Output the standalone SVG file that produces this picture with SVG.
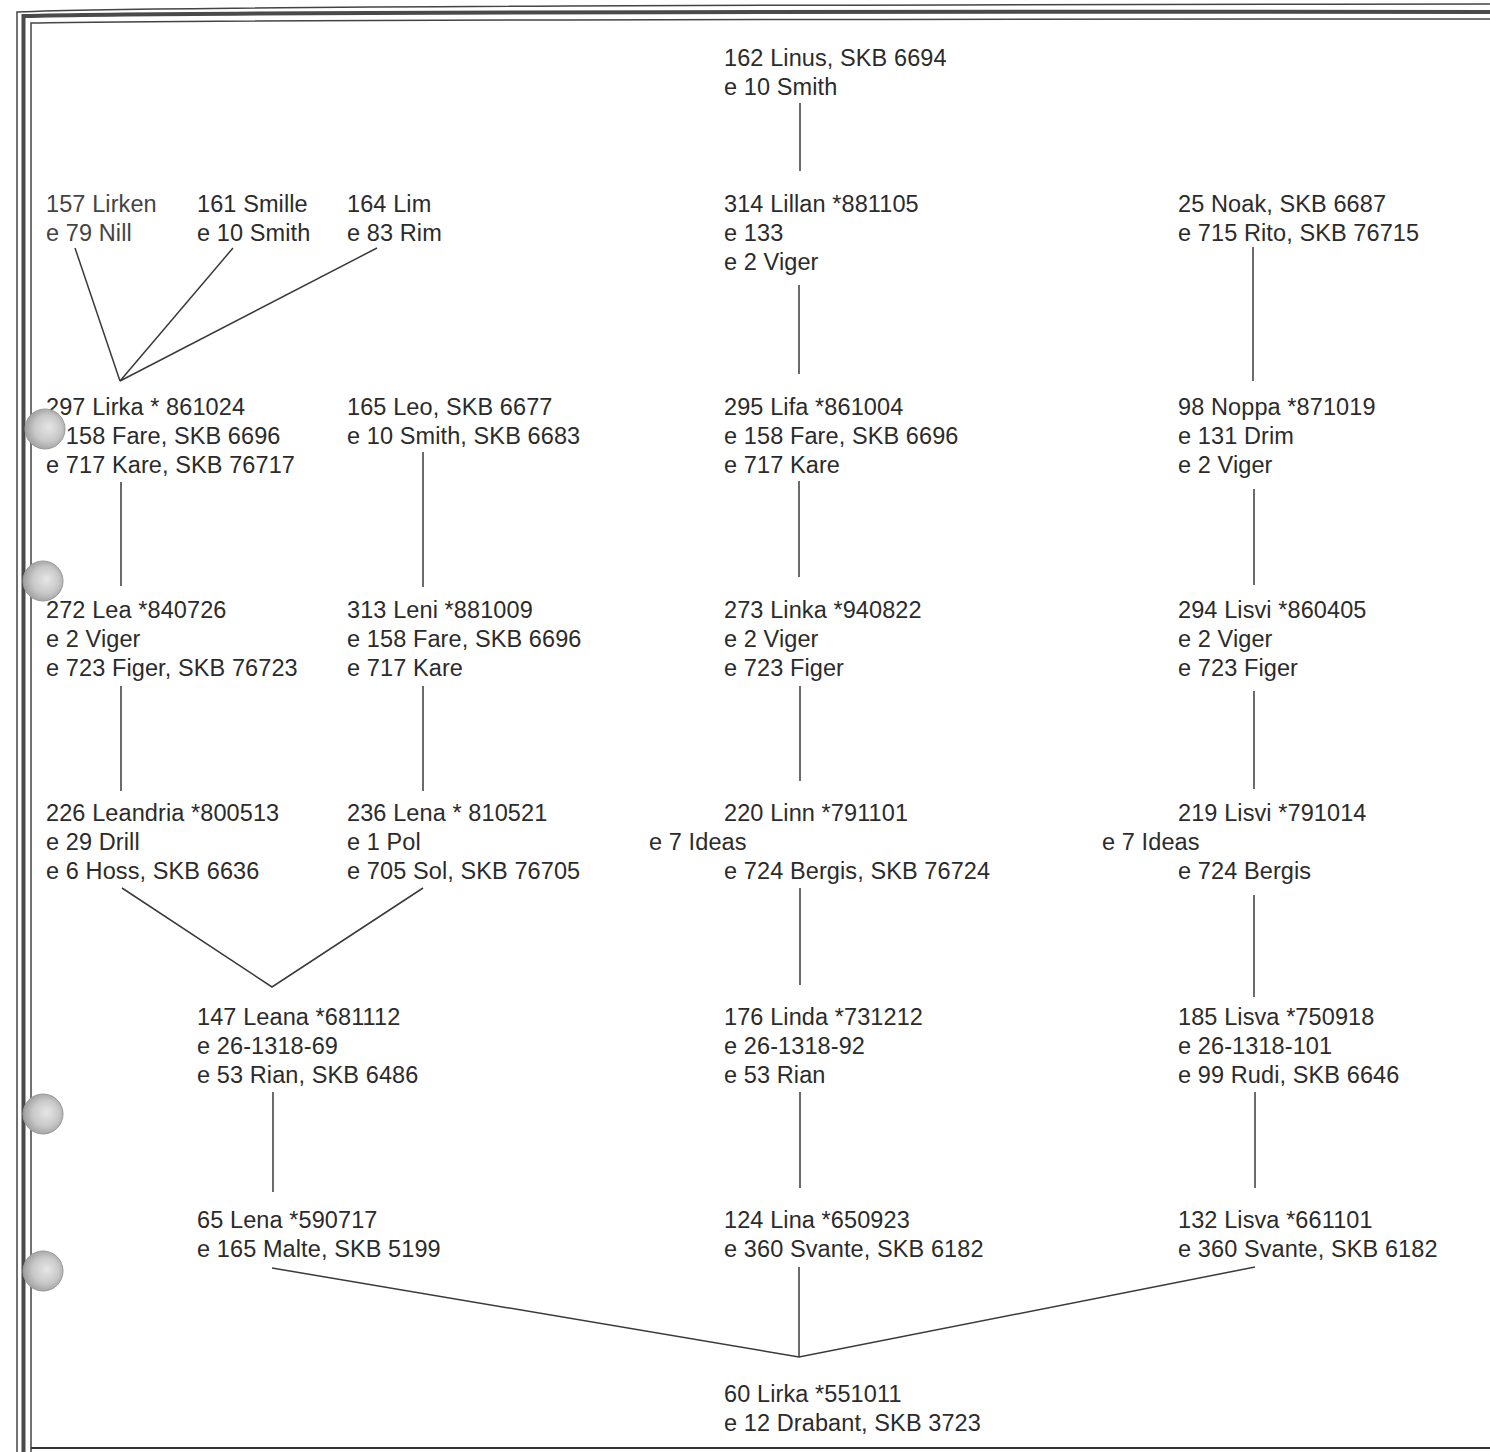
<svg xmlns="http://www.w3.org/2000/svg" width="1490" height="1452" viewBox="0 0 1490 1452">
<defs>
<style>
text{font-family:"Liberation Sans",Arial,sans-serif;font-size:23.5px;letter-spacing:0.1px;fill:#2b2b2b}
.c{stroke:#3a3a3a;stroke-width:1.5;fill:none}
.b1{stroke:#444;stroke-width:1.5;fill:none}
.b2{stroke:#4a4a4a;stroke-width:4;fill:none}
.hole{fill:url(#hg);stroke:#9a9a9a;stroke-width:1}
</style>
<radialGradient id="hg" cx="0.55" cy="0.5" r="0.55" fx="0.6" fy="0.45">
<stop offset="0" stop-color="#e6e6e6"/>
<stop offset="0.6" stop-color="#c8c8c8"/>
<stop offset="1" stop-color="#9e9e9e"/>
</radialGradient>
</defs>
<rect width="1490" height="1452" fill="#ffffff"/>
<g id="border">
<path class="b1" d="M17,1452 L17,12 Q200,5 1490,4"/>
<path class="b2" d="M23.5,1452 L23.5,16 Q200,11 1490,12"/>
<path class="b1" d="M31,1452 L31,1448 M31,1448 L31,23 Q250,19 1490,19"/>
<path stroke="#333" stroke-width="2" fill="none" d="M31,1448 L1490,1448"/>
</g>
<g id="connectors">
<line class="c" x1="800" y1="103" x2="800" y2="171"/>
<line class="c" x1="799" y1="285" x2="799" y2="374"/>
<line class="c" x1="799" y1="481" x2="799" y2="577"/>
<line class="c" x1="800" y1="686" x2="800" y2="781"/>
<line class="c" x1="800" y1="888" x2="800" y2="985"/>
<line class="c" x1="800" y1="1092" x2="800" y2="1188"/>
<line class="c" x1="799" y1="1267" x2="799" y2="1357"/>
<polyline class="c" points="272,1268 799,1357 1255,1267"/>
<line class="c" x1="1253" y1="247" x2="1253" y2="381"/>
<line class="c" x1="1254" y1="489" x2="1254" y2="585"/>
<line class="c" x1="1254" y1="691" x2="1254" y2="789"/>
<line class="c" x1="1254" y1="895" x2="1254" y2="997"/>
<line class="c" x1="1255" y1="1092" x2="1255" y2="1188"/>
<line class="c" x1="75" y1="248" x2="120" y2="381"/>
<line class="c" x1="233" y1="248" x2="120" y2="381"/>
<line class="c" x1="377" y1="248" x2="120" y2="381"/>
<line class="c" x1="121" y1="482" x2="121" y2="586"/>
<line class="c" x1="423" y1="452" x2="423" y2="587"/>
<line class="c" x1="121" y1="686" x2="121" y2="791"/>
<line class="c" x1="423" y1="686" x2="423" y2="791"/>
<polyline class="c" points="122,888 272,987 423,888"/>
<line class="c" x1="273" y1="1092" x2="273" y2="1192"/>
</g>
<g id="n162"><text x="724" y="66">162 Linus, SKB 6694</text><text x="724" y="95">e 10 Smith</text></g>
<g id="n157"><text x="46" y="212" style="fill:#444">157 Lirken</text><text x="46" y="241" style="fill:#444">e 79 Nill</text></g>
<g id="n161"><text x="197" y="212">161 Smille</text><text x="197" y="241">e 10 Smith</text></g>
<g id="n164"><text x="347" y="212">164 Lim</text><text x="347" y="241">e 83 Rim</text></g>
<g id="n314"><text x="724" y="212">314 Lillan *881105</text><text x="724" y="241">e 133</text><text x="724" y="270">e 2 Viger</text></g>
<g id="n25"><text x="1178" y="212">25 Noak, SKB 6687</text><text x="1178" y="241">e 715 Rito, SKB 76715</text></g>
<g id="n297"><text x="46" y="415">297 Lirka * 861024</text><text x="46" y="444">e 158 Fare, SKB 6696</text><text x="46" y="473">e 717 Kare, SKB 76717</text></g>
<g id="n165"><text x="347" y="415">165 Leo, SKB 6677</text><text x="347" y="444">e 10 Smith, SKB 6683</text></g>
<g id="n295"><text x="724" y="415">295 Lifa *861004</text><text x="724" y="444">e 158 Fare, SKB 6696</text><text x="724" y="473">e 717 Kare</text></g>
<g id="n98"><text x="1178" y="415">98 Noppa *871019</text><text x="1178" y="444">e 131 Drim</text><text x="1178" y="473">e 2 Viger</text></g>
<g id="n272"><text x="46" y="618">272 Lea *840726</text><text x="46" y="647">e 2 Viger</text><text x="46" y="676">e 723 Figer, SKB 76723</text></g>
<g id="n313"><text x="347" y="618">313 Leni *881009</text><text x="347" y="647">e 158 Fare, SKB 6696</text><text x="347" y="676">e 717 Kare</text></g>
<g id="n273"><text x="724" y="618">273 Linka *940822</text><text x="724" y="647">e 2 Viger</text><text x="724" y="676">e 723 Figer</text></g>
<g id="n294"><text x="1178" y="618">294 Lisvi *860405</text><text x="1178" y="647">e 2 Viger</text><text x="1178" y="676">e 723 Figer</text></g>
<g id="n226"><text x="46" y="821">226 Leandria *800513</text><text x="46" y="850">e 29 Drill</text><text x="46" y="879">e 6 Hoss, SKB 6636</text></g>
<g id="n236"><text x="347" y="821">236 Lena * 810521</text><text x="347" y="850">e 1 Pol</text><text x="347" y="879">e 705 Sol, SKB 76705</text></g>
<g id="n220"><text x="724" y="821">220 Linn *791101</text><text x="649" y="850">e 7 Ideas</text><text x="724" y="879">e 724 Bergis, SKB 76724</text></g>
<g id="n219"><text x="1178" y="821">219 Lisvi *791014</text><text x="1102" y="850">e 7 Ideas</text><text x="1178" y="879">e 724 Bergis</text></g>
<g id="n147"><text x="197" y="1025">147 Leana *681112</text><text x="197" y="1054">e 26-1318-69</text><text x="197" y="1083">e 53 Rian, SKB 6486</text></g>
<g id="n176"><text x="724" y="1025">176 Linda *731212</text><text x="724" y="1054">e 26-1318-92</text><text x="724" y="1083">e 53 Rian</text></g>
<g id="n185"><text x="1178" y="1025">185 Lisva *750918</text><text x="1178" y="1054">e 26-1318-101</text><text x="1178" y="1083">e 99 Rudi, SKB 6646</text></g>
<g id="n65"><text x="197" y="1228">65 Lena *590717</text><text x="197" y="1257">e 165 Malte, SKB 5199</text></g>
<g id="n124"><text x="724" y="1228">124 Lina *650923</text><text x="724" y="1257">e 360 Svante, SKB 6182</text></g>
<g id="n132"><text x="1178" y="1228">132 Lisva *661101</text><text x="1178" y="1257">e 360 Svante, SKB 6182</text></g>
<g id="n60"><text x="724" y="1402">60 Lirka *551011</text><text x="724" y="1431">e 12 Drabant, SKB 3723</text></g>
<g id="holes">
<circle class="hole" cx="45" cy="429" r="20"/>
<circle class="hole" cx="43" cy="581" r="20"/>
<circle class="hole" cx="43" cy="1114" r="20"/>
<circle class="hole" cx="43" cy="1271" r="20"/>
</g>
</svg>
